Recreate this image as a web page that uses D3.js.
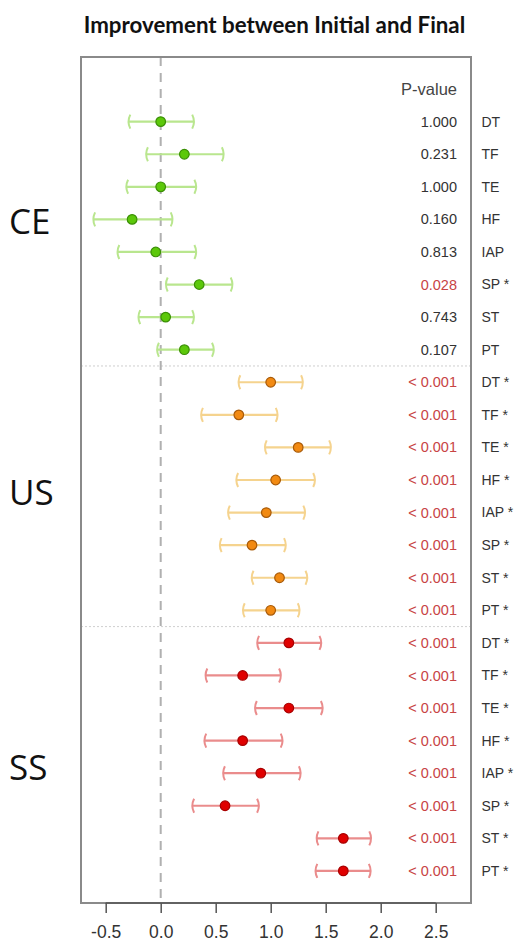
<!DOCTYPE html>
<html>
<head>
<meta charset="utf-8">
<script src="https://cdn.jsdelivr.net/npm/d3@7"></script>
<style>
  html, body { margin: 0; padding: 0; background: #fff; }
  svg { display: block; }
</style>
</head>
<body>
<div id="chart"></div>
<script>
// ---- Data ----
const groups = ["CE", "US", "SS"];
const measures = ["DT", "TF", "TE", "HF", "IAP", "SP", "ST", "PT"];

const ceEst  = [0.00, 0.215, 0.00, -0.26, -0.045, 0.35, 0.045, 0.215];
const ceLow  = [-0.29, -0.13, -0.31, -0.61, -0.39, 0.05, -0.20, -0.03];
const ceHigh = [0.30, 0.57, 0.32, 0.105, 0.32, 0.65, 0.30, 0.48];
const cePval = ["1.000", "0.231", "1.000", "0.160", "0.813", "0.028", "0.743", "0.107"];

const usEst  = [1.00, 0.71, 1.25, 1.045, 0.96, 0.83, 1.08, 1.00];
const usLow  = [0.71, 0.37, 0.95, 0.69, 0.615, 0.54, 0.83, 0.75];
const usHigh = [1.29, 1.06, 1.545, 1.40, 1.31, 1.135, 1.33, 1.26];
const usPval = ["< 0.001", "< 0.001", "< 0.001", "< 0.001", "< 0.001", "< 0.001", "< 0.001", "< 0.001"];

const ssEst  = [1.165, 0.745, 1.165, 0.745, 0.91, 0.585, 1.66, 1.66];
const ssLow  = [0.88, 0.41, 0.86, 0.40, 0.57, 0.29, 1.42, 1.41];
const ssHigh = [1.457, 1.09, 1.47, 1.105, 1.27, 0.89, 1.91, 1.906];
const ssPval = ["< 0.001", "< 0.001", "< 0.001", "< 0.001", "< 0.001", "< 0.001", "< 0.001", "< 0.001"];

const significant = [
  [false, false, false, false, false, true, false, false],
  [true, true, true, true, true, true, true, true],
  [true, true, true, true, true, true, true, true]
];

const xTicks = [-0.5, 0.0, 0.5, 1.0, 1.5, 2.0, 2.5];
const titleText = "Improvement between Initial and Final";
const pHeader = "P-value";

// ---- Build rows ----
const est = [ceEst, usEst, ssEst];
const low = [ceLow, usLow, ssLow];
const high = [ceHigh, usHigh, ssHigh];
const pv = [cePval, usPval, ssPval];
const styles = [
  { ci: "#b9e68e", fill: "#5cc80a", stroke: "#3a8f05" },
  { ci: "#f5d38e", fill: "#f28a12", stroke: "#a85a08" },
  { ci: "#ea8c8c", fill: "#e00000", stroke: "#a80000" }
];
const rows = [];
groups.forEach((g, gi) => {
  measures.forEach((m, mi) => {
    rows.push({
      group: gi, measure: m, idx: gi * 8 + mi,
      est: est[gi][mi], low: low[gi][mi], high: high[gi][mi],
      p: pv[gi][mi], sig: significant[gi][mi]
    });
  });
});

// ---- Layout ----
const W = 515, H = 945;
const box = { left: 81, right: 471, top: 57, bottom: 903 };

const svg = d3.select("#chart").append("svg")
  .attr("width", W).attr("height", H);

const x = d3.scaleLinear().domain([-0.5, 2.5]).range([105.7, 435.7]);
const y = d3.scaleLinear().domain([-2, 24]).range([56.5, 903.5]);

// Title
svg.append("text")
  .attr("x", 274.5).attr("y", 33)
  .attr("text-anchor", "middle")
  .attr("font-family", "Lato, 'Open Sans', sans-serif")
  .attr("font-weight", "bold")
  .attr("font-size", 22.3)
  .attr("fill", "#111")
  .text(titleText);

// Group separators (dotted)
[7.5, 15.5].forEach(r => {
  svg.append("line")
    .attr("x1", box.left).attr("x2", box.right)
    .attr("y1", y(r)).attr("y2", y(r))
    .attr("stroke", "#cfcfcf").attr("stroke-width", 1)
    .attr("stroke-dasharray", "2,2");
});

// Zero dashed line
svg.append("line")
  .attr("x1", x(0)).attr("x2", x(0))
  .attr("y1", box.top).attr("y2", box.bottom)
  .attr("stroke", "#b0b0b0").attr("stroke-width", 2)
  .attr("stroke-dasharray", "9,7");

// CI lines and caps
const g = svg.append("g");
const capH = 7;
rows.forEach(d => {
  const s = styles[d.group];
  const yy = y(d.idx);
  g.append("line")
    .attr("x1", x(d.low)).attr("x2", x(d.high))
    .attr("y1", yy).attr("y2", yy)
    .attr("stroke", s.ci).attr("stroke-width", 2.2);
  const xl = x(d.low), xh = x(d.high);
  g.append("path")
    .attr("d", `M${xl + 1.5},${yy - capH} Q${xl - 2},${yy} ${xl + 1.5},${yy + capH}`)
    .attr("fill", "none").attr("stroke", s.ci).attr("stroke-width", 2);
  g.append("path")
    .attr("d", `M${xh - 1.5},${yy - capH} Q${xh + 2},${yy} ${xh - 1.5},${yy + capH}`)
    .attr("fill", "none").attr("stroke", s.ci).attr("stroke-width", 2);
  g.append("circle")
    .attr("cx", x(d.est)).attr("cy", yy).attr("r", 4.8)
    .attr("fill", s.fill).attr("stroke", s.stroke).attr("stroke-width", 1.2);
});

// P-value header
svg.append("text")
  .attr("x", 457).attr("y", y(-1)).attr("dy", "0.35em")
  .attr("text-anchor", "end")
  .attr("font-family", "'Liberation Sans', Arial, sans-serif")
  .attr("font-size", 16.5)
  .attr("fill", "#444")
  .text(pHeader);

// P-values
svg.selectAll("text.pv").data(rows).enter().append("text")
  .attr("class", "pv")
  .attr("x", 457).attr("y", d => y(d.idx)).attr("dy", "0.35em")
  .attr("text-anchor", "end")
  .attr("font-family", "'Liberation Sans', Arial, sans-serif")
  .attr("font-size", 14.5)
  .attr("fill", d => d.sig ? "#c84444" : "#333")
  .text(d => d.p);

// Measure labels
svg.selectAll("text.lab").data(rows).enter().append("text")
  .attr("class", "lab")
  .attr("x", 481.5).attr("y", d => y(d.idx)).attr("dy", "0.35em")
  .attr("font-family", "'Liberation Sans', Arial, sans-serif")
  .attr("font-size", 14)
  .attr("fill", "#333")
  .text(d => d.sig ? d.measure + " *" : d.measure);

// Group labels
const groupCenters = [222, 493, 768];
groups.forEach((name, i) => {
  svg.append("text")
    .attr("x", 9).attr("y", groupCenters[i]).attr("dy", "0.35em")
    .attr("font-family", "'Open Sans', sans-serif")
    .attr("font-size", 35)
    .attr("fill", "#111")
    .text(name);
});

// Plot box
svg.append("rect")
  .attr("x", box.left).attr("y", box.top)
  .attr("width", box.right - box.left).attr("height", box.bottom - box.top)
  .attr("fill", "none").attr("stroke", "#8a8a8a").attr("stroke-width", 2);

// X axis
const axis = d3.axisBottom(x).tickValues(xTicks).tickSize(10).tickPadding(13)
  .tickFormat(d => d.toFixed(1));
const ax = svg.append("g").attr("transform", `translate(0,${box.bottom})`).call(axis);
ax.select(".domain").attr("d", `M${x(-0.5)},0H${x(2.5)}`).attr("stroke", "#555").attr("stroke-width", 1.5);
ax.selectAll(".tick line").attr("stroke", "#555").attr("stroke-width", 1.5);
ax.selectAll(".tick text")
  .attr("font-family", "'Liberation Sans', Arial, sans-serif")
  .attr("font-size", 17.5)
  .attr("fill", "#333");
</script>
</body>
</html>
